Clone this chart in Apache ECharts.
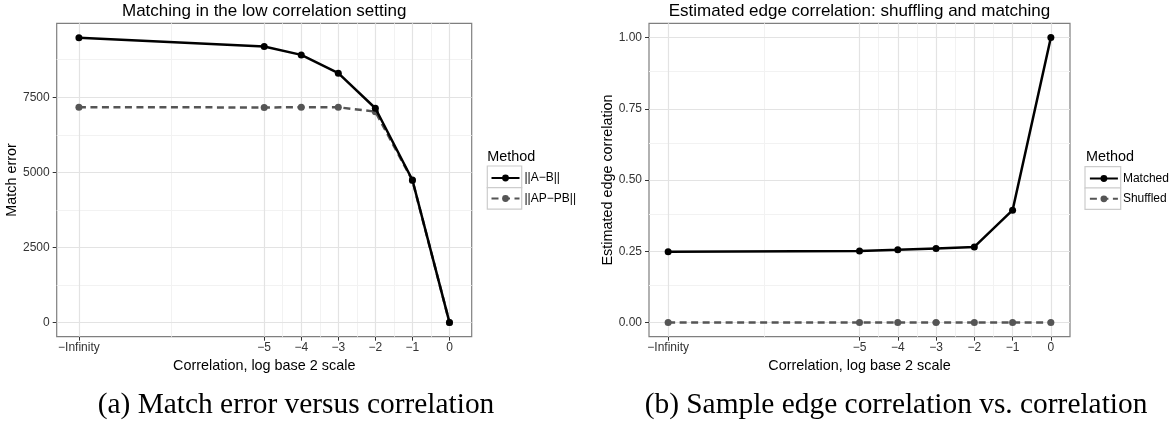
<!DOCTYPE html>
<html>
<head>
<meta charset="utf-8">
<script src="https://cdn.jsdelivr.net/npm/echarts@6/dist/echarts.min.js"></script>
<style>
html,body{margin:0;padding:0;background:#fff;}
#chart{width:1175px;height:423px;}
</style>
</head>
<body>
<div id="chart"></div>
<script>
// ---- data ----
const xValues = [-10, -5, -4, -3, -2, -1, 0];          // -10 stands for -Infinity
const xTickValues = [-10, -5, -4, -3, -2, -1, 0];
const xTickLabels = ['\u2212Infinity', '\u22125', '\u22124', '\u22123', '\u22122', '\u22121', '0'];
const xMinorValues = [-7.5, -4.5, -3.5, -2.5, -1.5, -0.5];

const seriesNamesA = ['||A\u2212B||', '||AP\u2212PB||'];
const errorAB   = [9477, 9187, 8910, 8300, 7133, 4743, 0];
const errorAPPB = [7167, 7160, 7165, 7165, 7020, 4730, 0];
const errorTicks = [0, 2500, 5000, 7500];
const errorMinor = [1250, 3750, 6250, 8750];

const seriesNamesB = ['Matched', 'Shuffled'];
const corrMatched  = [0.248, 0.251, 0.255, 0.260, 0.265, 0.394, 1.0];
const corrShuffled = [0, 0, 0, 0, 0, 0, 0];
const corrTicks = [0, 0.25, 0.5, 0.75, 1.0];
const corrMinor = [0.125, 0.375, 0.625, 0.875];

// ---- styling ----
const FONT = '"Liberation Sans", Arial, Helvetica, sans-serif';
const SERIF = '"Liberation Serif", "Times New Roman", serif';
const MAJOR = '#E3E3E3', MINOR = '#F2F2F2';
const DARK = '#000000', GREY = '#555555';

function pairs(ys) { return xValues.map((x, i) => [x, ys[i]]); }

function gridLines(xMaj, xMin, yMaj, yMin) {
  const d = [];
  xMin.forEach(v => d.push({xAxis: v, lineStyle: {color: MINOR, width: 1, type: 'solid'}}));
  yMin.forEach(v => d.push({yAxis: v, lineStyle: {color: MINOR, width: 1, type: 'solid'}}));
  xMaj.forEach(v => d.push({xAxis: v, lineStyle: {color: MAJOR, width: 1.2, type: 'solid'}}));
  yMaj.forEach(v => d.push({yAxis: v, lineStyle: {color: MAJOR, width: 1.2, type: 'solid'}}));
  return d;
}

function xAxisCfg(gi, min, max) {
  return {
    type: 'value', gridIndex: gi, min: min, max: max,
    name: 'Correlation, log base 2 scale', nameLocation: 'middle', nameGap: 20,
    nameTextStyle: {fontFamily: FONT, fontSize: 14.4, color: '#000'},
    axisLine: {show: false, onZero: false},
    axisTick: {show: true, inside: false, length: 4, customValues: xTickValues,
               lineStyle: {color: '#333', width: 1}},
    axisLabel: {show: true, margin: 5, customValues: xTickValues,
                fontFamily: FONT, fontSize: 12, color: '#333',
                formatter: v => { const i = xTickValues.indexOf(v); return i >= 0 ? xTickLabels[i] : ''; }},
    splitLine: {show: false}, minorSplitLine: {show: false}
  };
}

function yAxisCfg(gi, min, max, ticks, name, gap, fmt) {
  return {
    type: 'value', gridIndex: gi, min: min, max: max,
    name: name, nameLocation: 'middle', nameGap: gap,
    nameTextStyle: {fontFamily: FONT, fontSize: 14.4, color: '#000'},
    axisLine: {show: false, onZero: false},
    axisTick: {show: true, inside: false, length: 4, customValues: ticks,
               lineStyle: {color: '#333', width: 1}},
    axisLabel: {show: true, margin: 7, customValues: ticks,
                fontFamily: FONT, fontSize: 12, color: '#333', formatter: fmt},
    splitLine: {show: false}
  };
}

function lineSeries(name, gi, ys, color, dashed, z) {
  return {
    name: name, type: 'line', xAxisIndex: gi, yAxisIndex: gi,
    data: pairs(ys), symbol: 'circle', symbolSize: 7, z: z,
    lineStyle: {color: color, width: 2.5, type: dashed ? [7, 4.5] : 'solid'},
    itemStyle: {color: color, borderColor: color, borderWidth: 0},
    emphasis: {disabled: true}, animation: false
  };
}

function gridSeries(gi, yMaj, yMin) {
  return {
    name: 'grid' + gi, type: 'line', xAxisIndex: gi, yAxisIndex: gi, data: [], z: 1, silent: true,
    markLine: {silent: true, z: 1, zlevel: 0, symbol: ['none', 'none'], label: {show: false},
               animation: false, emphasis: {disabled: true},
               data: gridLines(xTickValues, xMinorValues, yMaj, yMin)}
  };
}

const chart = echarts.init(document.getElementById('chart'), null, {renderer: 'canvas'});

const option = {
  animation: false,
  backgroundColor: '#ffffff',
  grid: [
    {left: 56.7, right: 1175 - 471.7, top: 23.3, bottom: 423 - 336.7,
     show: true, borderColor: '#7F7F7F', borderWidth: 1.2, backgroundColor: 'transparent'},
    {left: 649, right: 1175 - 1070, top: 23.3, bottom: 423 - 336.7,
     show: true, borderColor: '#7F7F7F', borderWidth: 1.2, backgroundColor: 'transparent'}
  ],
  xAxis: [xAxisCfg(0, -10.6, 0.6), xAxisCfg(1, -10.5, 0.5)],
  yAxis: [
    yAxisCfg(0, -476, 9962, errorTicks, 'Match error', 38, v => String(v)),
    yAxisCfg(1, -0.05, 1.05, corrTicks, 'Estimated edge correlation', 34, v => v.toFixed(2))
  ],
  legend: [
    {orient: 'vertical', left: 490.5, top: 172, padding: 0, itemWidth: 28, itemHeight: 8.5, itemGap: 8.5,
     data: seriesNamesA, textStyle: {fontFamily: FONT, fontSize: 12, color: '#000'},
     selectedMode: false},
    {orient: 'vertical', left: 1088.9, top: 172.5, padding: 0, itemWidth: 28, itemHeight: 8.5, itemGap: 8.3,
     data: seriesNamesB, textStyle: {fontFamily: FONT, fontSize: 12, color: '#000'},
     selectedMode: false}
  ],
  series: [
    gridSeries(0, errorTicks, errorMinor),
    gridSeries(1, corrTicks, corrMinor),
    lineSeries(seriesNamesA[1], 0, errorAPPB, GREY, true, 3),
    lineSeries(seriesNamesA[0], 0, errorAB, DARK, false, 4),
    lineSeries(seriesNamesB[1], 1, corrShuffled, GREY, true, 3),
    lineSeries(seriesNamesB[0], 1, corrMatched, DARK, false, 4)
  ],
  graphic: [
    {type: 'text', x: 264.2, y: 11, style: {text: 'Matching in the low correlation setting',
      font: '17px ' + FONT, fill: '#000', textAlign: 'center', textVerticalAlign: 'middle'}},
    {type: 'text', x: 859.5, y: 11, style: {text: 'Estimated edge correlation: shuffling and matching',
      font: '17px ' + FONT, fill: '#000', textAlign: 'center', textVerticalAlign: 'middle'}},
    {type: 'text', x: 487.3, y: 157.3, style: {text: 'Method',
      font: '14.4px ' + FONT, fill: '#000', textAlign: 'left', textVerticalAlign: 'middle'}},
    {type: 'text', x: 1086, y: 157.3, style: {text: 'Method',
      font: '14.4px ' + FONT, fill: '#000', textAlign: 'left', textVerticalAlign: 'middle'}},
    {type: 'rect', shape: {x: 487.3, y: 166, width: 34.4, height: 21.6},
      style: {fill: '#fff', stroke: '#CCCCCC', lineWidth: 1.2}, z: 0},
    {type: 'rect', shape: {x: 487.3, y: 187.6, width: 34.4, height: 21.6},
      style: {fill: '#fff', stroke: '#CCCCCC', lineWidth: 1.2}, z: 0},
    {type: 'rect', shape: {x: 1085, y: 166.7, width: 35.7, height: 21.3},
      style: {fill: '#fff', stroke: '#CCCCCC', lineWidth: 1.2}, z: 0},
    {type: 'rect', shape: {x: 1085, y: 188, width: 35.7, height: 21.3},
      style: {fill: '#fff', stroke: '#CCCCCC', lineWidth: 1.2}, z: 0},
    {type: 'text', x: 296, y: 405, style: {text: '(a) Match error versus correlation',
      font: '29.4px ' + SERIF, fill: '#000', textAlign: 'center', textVerticalAlign: 'middle'}},
    {type: 'text', x: 896, y: 405, style: {text: '(b) Sample edge correlation vs. correlation',
      font: '29.4px ' + SERIF, fill: '#000', textAlign: 'center', textVerticalAlign: 'middle'}}
  ]
};
chart.setOption(option);
</script>
</body>
</html>
